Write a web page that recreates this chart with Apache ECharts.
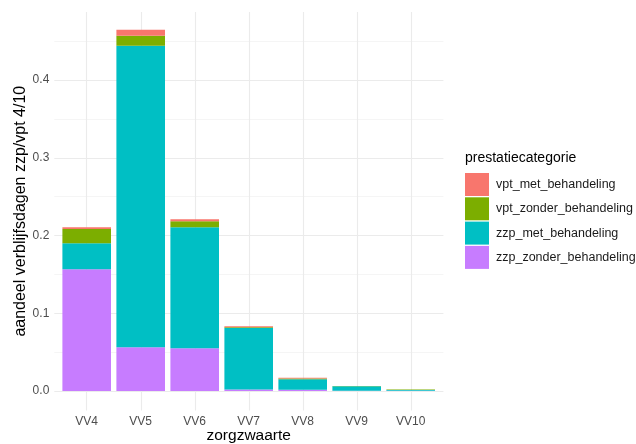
<!DOCTYPE html>
<html>
<head>
<meta charset="utf-8">
<script src="https://cdn.jsdelivr.net/npm/echarts@6/dist/echarts.min.js"></script>
<style>html,body{margin:0;padding:0;background:#fff}#c{width:636px;height:444px}</style>
</head>
<body>
<div id="c"></div>
<script>
var categories = ['VV4','VV5','VV6','VV7','VV8','VV9','VV10'];
var zzpZonder = [0.1566, 0.0562, 0.0550, 0.0020, 0.0015, 0.0004, 0.0002];
var zzpMet    = [0.0334, 0.3878, 0.1557, 0.0790, 0.0135, 0.0056, 0.0012];
var vptZonder = [0.0184, 0.0129, 0.0077, 0.0009, 0.0010, 0.0003, 0.0005];
var vptMet    = [0.0021, 0.0077, 0.0026, 0.0013, 0.0011, 0.0001, 0.0001];
var yTicks = [0, 0.1, 0.2, 0.3, 0.4];
var legendOrder = ['vpt_met_behandeling','vpt_zonder_behandeling','zzp_met_behandeling','zzp_zonder_behandeling'];

var Y_MIN = -0.025, Y_MAX = 0.4875, Y_STEP = 0.0125;
// helper positions for the gridlines (layout only)
var yGridPos = [];
for (var i = 0; Y_MIN + i * Y_STEP <= Y_MAX + 1e-9; i++) yGridPos.push(+(Y_MIN + i * Y_STEP).toFixed(4));
var xGridPos = [];
for (var j = 0; j <= 36; j++) xGridPos.push(j);
function isTick(v) { return yTicks.some(function (t) { return Math.abs(t - v) < 1e-6; }); }
function isMinor(v) { return yTicks.some(function (t) { return Math.abs(t + 0.05 - v) < 1e-6; }); }

var chart = echarts.init(document.getElementById('c'));
var gridCol = '#ebebeb';
chart.setOption({
  animation: false,
  backgroundColor: '#ffffff',
  textStyle: { fontFamily: 'Liberation Sans, Arial, sans-serif' },
  title: {
    text: 'prestatiecategorie', left: 465, top: 151, padding: 0,
    textStyle: { fontSize: 14, fontWeight: 'normal', color: '#000' }
  },
  legend: {
    data: legendOrder, orient: 'vertical', left: 465, top: 173,
    itemWidth: 24, itemHeight: 23, itemGap: 1.3, icon: 'rect', padding: 0,
    textStyle: { fontSize: 12.5, color: '#1a1a1a', padding: [0, 0, 0, 2] }
  },
  grid: [
    { left: 54.3, right: 192.6, top: 12, bottom: 33.6, outerBoundsMode: 'none', containLabel: false },
    { left: 59.7, right: 198.3, top: 12, bottom: 33.6, outerBoundsMode: 'none', containLabel: false }
  ],
  xAxis: [
    { gridIndex: 0, type: 'category', data: xGridPos, boundaryGap: false,
      axisLine: { show: false }, axisTick: { show: false }, axisLabel: { show: false },
      splitLine: { show: true, interval: function (idx) { return idx >= 3 && (idx - 3) % 5 === 0; },
                   lineStyle: { color: gridCol, width: 1.1 } } },
    { gridIndex: 1, type: 'category', data: categories,
      axisLine: { show: false }, axisTick: { show: false }, splitLine: { show: false },
      axisLabel: { margin: 5, fontSize: 12, color: '#4d4d4d' },
      name: 'zorgzwaarte', nameLocation: 'middle', nameGap: 17, nameMoveOverlap: false,
      nameTextStyle: { fontSize: 15.5, color: '#000' } }
  ],
  yAxis: [
    { gridIndex: 0, type: 'category', data: yGridPos, boundaryGap: false,
      axisLine: { show: false }, axisTick: { show: false },
      axisLabel: { margin: 5, fontSize: 12, color: '#4d4d4d',
        interval: function (idx, v) { return isTick(+v); },
        formatter: function (v) { return (+v).toFixed(1); } },
      splitLine: { show: true, interval: function (idx, v) { return isTick(+v); },
                   lineStyle: { color: gridCol, width: 1.1 } },
      name: 'aandeel verblijfsdagen zzp/vpt 4/10', nameLocation: 'middle', nameGap: 26, nameRotate: 90,
      nameMoveOverlap: false,
      nameTextStyle: { fontSize: 16, color: '#000' } },
    { gridIndex: 0, type: 'category', data: yGridPos, boundaryGap: false, position: 'left',
      axisLine: { show: false }, axisTick: { show: false }, axisLabel: { show: false },
      splitLine: { show: true, interval: function (idx, v) { return isMinor(+v); },
                   lineStyle: { color: '#f1f1f1', width: 0.7 } } },
    { gridIndex: 1, type: 'value', min: Y_MIN, max: Y_MAX, show: false,
      splitLine: { show: false } }
  ],
  series: [
    { name: 'zzp_zonder_behandeling', type: 'bar', stack: 's', xAxisIndex: 1, yAxisIndex: 2,
      data: zzpZonder, barWidth: '90%', itemStyle: { color: '#C77CFF' } },
    { name: 'zzp_met_behandeling', type: 'bar', stack: 's', xAxisIndex: 1, yAxisIndex: 2,
      data: zzpMet, barWidth: '90%', itemStyle: { color: '#00BFC4' } },
    { name: 'vpt_zonder_behandeling', type: 'bar', stack: 's', xAxisIndex: 1, yAxisIndex: 2,
      data: vptZonder, barWidth: '90%', itemStyle: { color: '#7CAE00' } },
    { name: 'vpt_met_behandeling', type: 'bar', stack: 's', xAxisIndex: 1, yAxisIndex: 2,
      data: vptMet, barWidth: '90%', itemStyle: { color: '#F8766D' } }
  ]
});
</script>
</body>
</html>
